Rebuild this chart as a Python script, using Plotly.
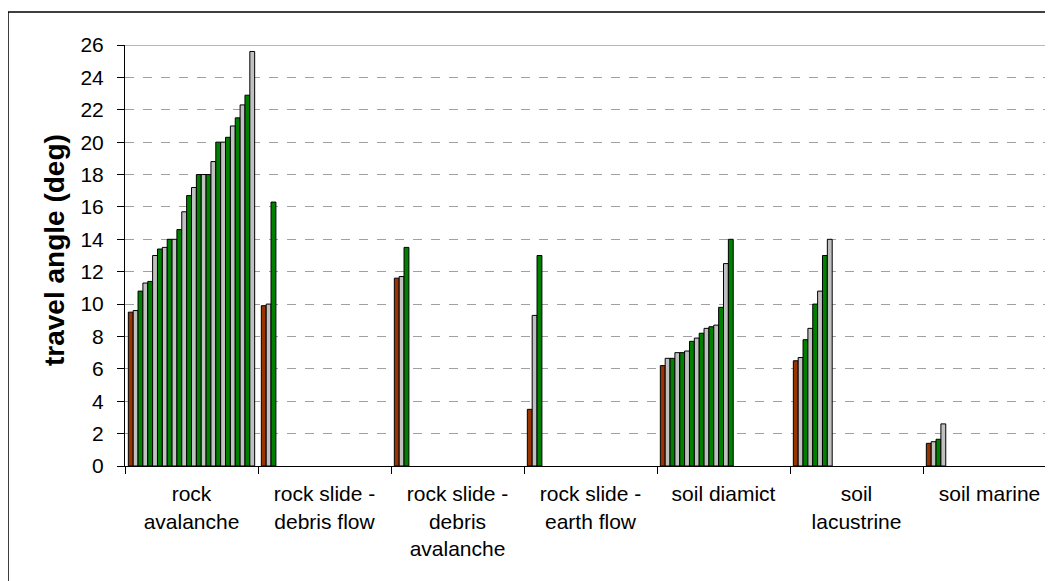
import plotly.graph_objects as go

categories = ["rock<br>avalanche", "rock slide -<br>debris flow", "rock slide -<br>debris<br>avalanche",
              "rock slide -<br>earth flow", "soil diamict", "soil<br>lacustrine", "soil marine"]

rock_avalanche = [9.5, 9.6, 10.8, 11.3, 11.4, 13.0, 13.4, 13.5, 14.0, 14.0, 14.6, 15.7, 16.7,
                  17.2, 18.0, 18.0, 18.0, 18.8, 20.0, 20.0, 20.3, 21.0, 21.5, 22.3, 22.9, 25.6]
rock_slide_debris_flow = [9.9, 10.0, 16.3]
rock_slide_debris_avalanche = [11.6, 11.7, 13.5]
rock_slide_earth_flow = [3.5, 9.3, 13.0]
soil_diamict = [6.2, 6.65, 6.65, 7.0, 7.0, 7.1, 7.7, 7.9, 8.2, 8.5, 8.6, 8.7, 9.8, 12.5, 14.0]
soil_lacustrine = [6.5, 6.7, 7.8, 8.5, 10.0, 10.8, 13.0, 14.0]
soil_marine = [1.4, 1.5, 1.65, 2.6]

groups = [rock_avalanche, rock_slide_debris_flow, rock_slide_debris_avalanche,
          rock_slide_earth_flow, soil_diamict, soil_lacustrine, soil_marine]

BROWN, GRAY, GREEN = "#993300", "#C0C0C0", "#008000"
n_series = max(len(g) for g in groups)

fig = go.Figure()
for i in range(n_series):
    vals = [g[i] if i < len(g) else None for g in groups]
    color = BROWN if i == 0 else (GRAY if i % 2 == 1 else GREEN)
    fig.add_trace(go.Bar(x=categories, y=vals, marker=dict(color=color, line=dict(color="black", width=1)),
                         showlegend=False, hoverinfo="skip"))

FONT = "Arial, Liberation Sans, sans-serif"
OFF = 8  # page body margin
W, H = 1053 - OFF, 581 - OFF
L, T = 125 - OFF, 45 - OFF
B = H - (466 - OFF)
pw, ph = W - L, H - T - B

fig.update_layout(
    width=W, height=H,
    margin=dict(l=L, r=0, t=T, b=B, pad=0),
    paper_bgcolor="white", plot_bgcolor="white",
    barmode="group", bargap=0.05, bargroupgap=0,
    font=dict(family=FONT, size=21, color="black"),
)
fig.update_xaxes(
    range=[-0.5, -0.5 + pw / 133.0], tickson="boundaries", ticks="outside", ticklen=7,
    tickcolor="black", showline=True, linecolor="black", linewidth=1, showgrid=False,
    tickfont=dict(size=21), ticklabelstandoff=9,
)
fig.update_yaxes(
    range=[0, 26], dtick=2, ticks="outside", ticklen=7, tickcolor="black",
    showline=True, linecolor="black", linewidth=1,
    showgrid=True, gridcolor="#a0a0a0", griddash="dash", gridwidth=1,
    tickfont=dict(size=21), ticklabelstandoff=9, zeroline=False,
)
# solid top gridline
fig.add_shape(type="line", xref="paper", yref="y", x0=0, x1=1, y0=26, y1=26,
              line=dict(color="#a0a0a0", width=1.5))
# outer chart border (extends beyond the photographed window)
fig.add_shape(type="rect", xref="paper", yref="paper",
              x0=(8 - 125) / pw, x1=1.02, y0=-0.4, y1=(466 - 12) / ph,
              line=dict(color="black", width=1.5), layer="above")
fig.add_annotation(text="<b>travel angle (deg)</b>", textangle=-90, showarrow=False,
                   xref="paper", yref="paper", x=(55 - 125) / pw, y=(466 - 250) / ph,
                   xanchor="center", yanchor="middle", font=dict(size=28, family=FONT))

fig.write_html("out.html")
